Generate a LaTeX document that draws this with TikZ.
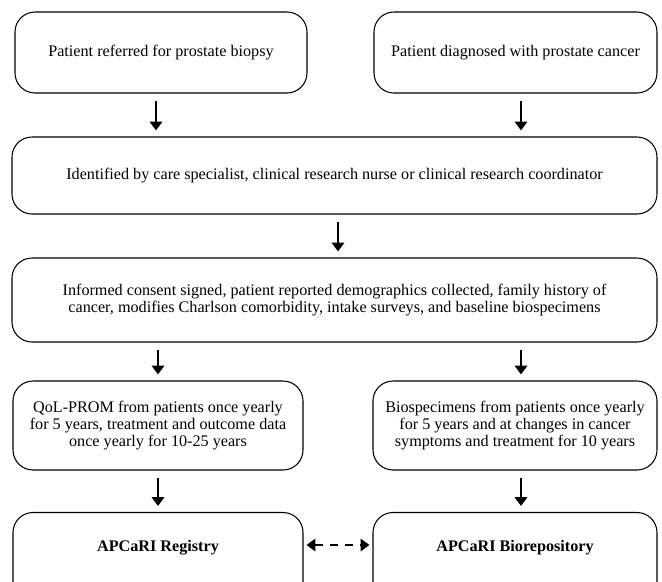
\documentclass[tikz,border=0pt]{standalone}
\usepackage{fontspec}
\setmainfont{Liberation Serif}
\usetikzlibrary{arrows.meta,positioning}

\begin{document}
\begin{tikzpicture}[
  stage/.style={rectangle,rounded corners=0.4cm,draw,line width=0.6pt,
                align=center,inner sep=0pt,
                font=\fontsize{9.2}{9.6}\selectfont},
  store/.style={stage,font=\fontsize{9.2}{9.6}\selectfont\bfseries,
                text depth=0.45cm},
  flow/.style={-{Triangle[width=7pt,length=5pt]},line width=1.5pt,
               shorten <=0.14cm,shorten >=0.12cm},
  link/.style={{Triangle[width=7pt,length=5pt]}-{Triangle[width=7pt,length=5pt]},
               line width=1.5pt,dash pattern=on 4.5pt off 4pt,
               shorten <=0.06cm,shorten >=0.06cm},
]
  \useasboundingbox (0,0) rectangle (13.24,-11.62);
  \clip (0,0) rectangle (13.24,-11.62);

  \node[stage,minimum width=5.84cm,minimum height=1.62cm] (refer) at (3.22,-1.05)
    {Patient referred for prostate biopsy};
  \node[stage,minimum width=5.66cm,minimum height=1.62cm] (diag) at (10.31,-1.05)
    {Patient diagnosed with prostate cancer};
  \node[stage,minimum width=12.9cm,minimum height=1.54cm] (ident) at (6.69,-3.51)
    {Identified by care specialist, clinical research nurse or clinical research coordinator};
  \node[stage,minimum width=12.9cm,minimum height=1.68cm] (consent) at (6.69,-6.0)
    {Informed consent signed, patient reported demographics collected, family history of\\
     cancer, modifies Charlson comorbidity, intake surveys, and baseline biospecimens};
  \node[stage,minimum width=5.8cm,minimum height=1.78cm] (qol) at (3.16,-8.51)
    {QoL-PROM from patients once yearly\\ for 5 years, treatment and outcome data\\
     once yearly for 10-25 years};
  \node[stage,minimum width=5.68cm,minimum height=1.78cm] (spec) at (10.3,-8.51)
    {Biospecimens from patients once yearly\\ for 5 years and at changes in cancer\\
     symptoms and treatment for 10 years};
  \node[store,minimum width=5.8cm,minimum height=1.8cm] (reg) at (3.16,-11.15)
    {APCaRI Registry};
  \node[store,minimum width=5.68cm,minimum height=1.8cm] (biorep) at (10.3,-11.15)
    {APCaRI Biorepository};

  \draw[flow] ([xshift=-0.1cm]refer.south) -- ([xshift=-0.1cm]refer.south |- ident.north);
  \draw[flow] ([xshift=0.11cm]diag.south) -- ([xshift=0.11cm]diag.south |- ident.north);
  \draw[flow] ([xshift=0.07cm]ident.south) -- ([xshift=0.07cm]ident.south |- consent.north);
  \draw[flow] (consent.south -| qol.north) -- (qol.north);
  \draw[flow] ([xshift=0.12cm]consent.south -| spec.north) -- ([xshift=0.12cm]spec.north);
  \draw[flow] (qol.south) -- (qol.south |- reg.north);
  \draw[flow] ([xshift=0.12cm]spec.south) -- ([xshift=0.12cm]spec.south |- biorep.north);
  \draw[link] (reg.east |- 0,-10.9) -- (biorep.west |- 0,-10.9);
\end{tikzpicture}
\end{document}
